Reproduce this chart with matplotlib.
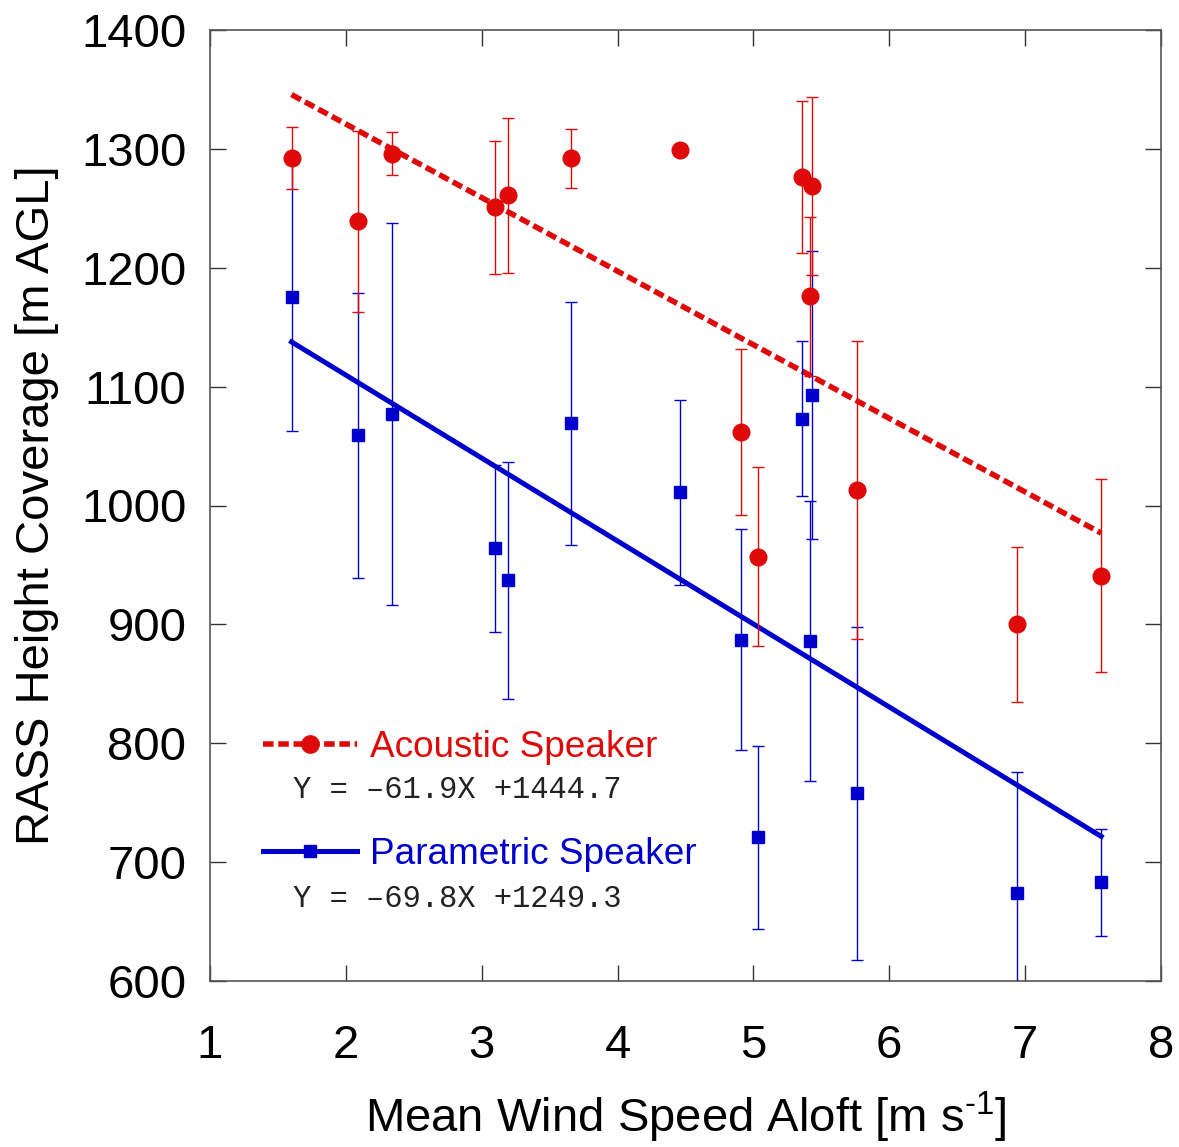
import numpy as np
import matplotlib
matplotlib.use('Agg')
import matplotlib.pyplot as plt
from matplotlib.lines import Line2D

plt.rcParams['font.family'] = ['Liberation Sans', 'DejaVu Sans']
plt.rcParams['mathtext.fontset'] = 'custom'
plt.rcParams['mathtext.rm'] = 'Liberation Sans'
plt.rcParams['mathtext.it'] = 'Liberation Sans'

# ---- data ----
wind = [1.60, 2.09, 2.34, 3.10, 3.19, 3.66, 4.46, 4.91, 5.03, 5.36, 5.43, 5.42, 5.76, 6.94, 7.56]

acoustic = [1292, 1239, 1296, 1251, 1261, 1292, 1299, 1062, 957, 1276, 1269, 1176, 1013, 900, 941]
acoustic_err = [26, 76, 18, 56, 65, 25, 0, 70, 75, 64, 75, 67, 125, 65, 81]

parametric = [1175, 1059, 1077, 964, 937, 1069, 1011, 887, 721, 1073, 1093, 886, 758, 674, 683]
parametric_err = [112, 120, 161, 70, 100, 102, 78, 93, 77, 65, 121, 118, 140, 102, 45]

fit_acoustic = (-61.9, 1444.7)
fit_parametric = (-69.8, 1249.3)

x_ticks = [1, 2, 3, 4, 5, 6, 7, 8]
y_ticks = [600, 700, 800, 900, 1000, 1100, 1200, 1300, 1400]

red = '#de0a0a'
blue = '#0000cd'
dash = (0, (1.9, 0.85))

fig = plt.figure(figsize=(11.79, 11.47), dpi=100)
ax = fig.add_axes([210 / 1179, 166 / 1147, 951 / 1179, 951 / 1147])

# regression lines over the data range
xs = np.array([min(wind), max(wind)])
ax.plot(xs, fit_acoustic[0] * xs + fit_acoustic[1], color=red, lw=4.0,
        linestyle=dash, zorder=3)
ax.plot(xs, fit_parametric[0] * xs + fit_parametric[1], color=blue, lw=3.6, zorder=3)

# error bars and points
ax.errorbar(wind, parametric, yerr=parametric_err, fmt='s', color=blue, ms=8.5,
            ecolor=blue, elinewidth=1.0, capsize=4.5, capthick=1.0, zorder=4)
ax.errorbar(wind, acoustic, yerr=acoustic_err, fmt='o', color=red, ms=12,
            ecolor=red, elinewidth=1.0, capsize=4.5, capthick=1.0, zorder=5)

ax.set_xlim(1, 8)
ax.set_ylim(600, 1400)
ax.set_xticks(x_ticks)
ax.set_yticks(y_ticks)
ax.tick_params(direction='in', length=11.5, width=1.0, color='#333333',
               top=True, right=True, labelsize=34)
ax.tick_params(axis='y', pad=17)
ax.tick_params(axis='x', pad=31)
for sp in ax.spines.values():
    sp.set_color('#555555')
    sp.set_linewidth(1.2)

ax.set_xlabel('Mean Wind Speed Aloft [m s$^{\\text{-}1}$]', fontsize=34, labelpad=16)
ax.set_ylabel('RASS Height Coverage [m AGL]', fontsize=34, labelpad=16)

# legend with regression equations
handles = [
    (Line2D([], [], color=red, lw=4.0, linestyle=dash),
     Line2D([], [], color=red, ls='none', marker='o', ms=12.5)),
    (Line2D([], [], color=blue, lw=3.6),
     Line2D([], [], color=blue, ls='none', marker='s', ms=8.5)),
]
leg = ax.legend(handles, ['Acoustic Speaker', 'Parametric Speaker'],
                loc='upper left', bbox_to_anchor=(0.0557, 0.2636),
                frameon=False, fontsize=26.6, handlelength=2.55, numpoints=1,
                handletextpad=0.35, labelspacing=1.95, borderpad=0,
                borderaxespad=0)
for txt, c in zip(leg.get_texts(), [red, blue]):
    txt.set_color(c)

eq_font = dict(family='Liberation Mono', fontsize=22, color='#222222',
               transform=ax.transAxes, ha='left', va='center')
ax.text(0.0873, 0.201, 'Y = \u201361.9X +1444.7', **eq_font)
ax.text(0.0873, 0.0863, 'Y = \u201369.8X +1249.3', **eq_font)

fig.savefig('out.png', dpi=100)
